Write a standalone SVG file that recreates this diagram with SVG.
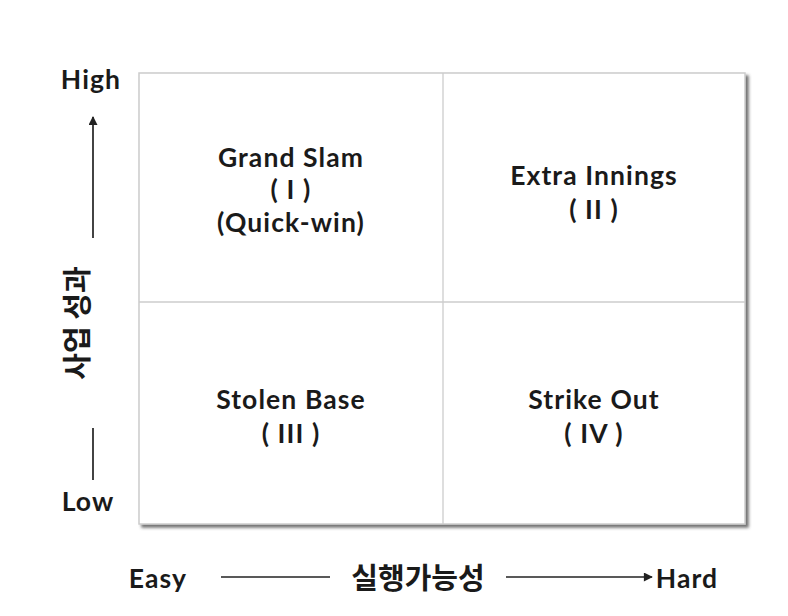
<svg xmlns="http://www.w3.org/2000/svg" width="788" height="616" viewBox="0 0 788 616">
<defs>
<style>
.t{font-family:Lato,"Noto Sans CJK KR",sans-serif;font-weight:700;font-size:26.5px;letter-spacing:1.1px;fill:#1a1a1a;text-anchor:middle}
.k{font-family:"Noto Sans CJK KR",sans-serif;font-weight:700;font-size:29px;fill:#1a1a1a;text-anchor:middle}
.ln{stroke:#222;stroke-width:1.7;fill:none}
</style>
<marker id="ah" viewBox="0 0 10 10" refX="9" refY="5" markerWidth="10" markerHeight="9" markerUnits="userSpaceOnUse" orient="auto"><path d="M0,0L10,5L0,10z" fill="#222"/></marker>
<filter id="sh" x="-5%" y="-5%" width="110%" height="110%"><feDropShadow dx="3" dy="3" stdDeviation="1.5" flood-color="#444" flood-opacity="0.75"/></filter>
</defs>
<rect width="788" height="616" fill="#fff"/>
<g id="matrix">
<rect x="139" y="73" width="606" height="451" fill="#fff" stroke="#ccc" stroke-width="1.5" filter="url(#sh)"/>
<line x1="443" y1="73" x2="443" y2="524" stroke="#ccc" stroke-width="1.3"/>
<line x1="139" y1="302" x2="745" y2="302" stroke="#ccc" stroke-width="1.3"/>
</g>
<g id="q1"><text class="t" x="291" y="167">Grand Slam</text><text class="t" x="291" y="199">( I )</text><text class="t" x="291" y="232">(Quick-win)</text></g>
<g id="q2"><text class="t" x="594" y="185">Extra Innings</text><text class="t" x="594" y="219">( II )</text></g>
<g id="q3"><text class="t" x="291" y="409">Stolen Base</text><text class="t" x="291" y="443">( III )</text></g>
<g id="q4"><text class="t" x="594" y="409">Strike Out</text><text class="t" x="594" y="443">( IV )</text></g>
<g id="labels">
<text class="t" x="91" y="89">High</text>
<text class="t" x="88" y="511">Low</text>
<text class="t" x="158" y="588">Easy</text>
<text class="t" x="687" y="588">Hard</text>
<text class="k" transform="translate(88,323) rotate(-90)">사업 성과</text>
<text class="k" x="418" y="589">실행가능성</text>
</g>
<g id="connectors">
<line class="ln" x1="93" y1="238" x2="93" y2="117" marker-end="url(#ah)"/>
<line class="ln" x1="93" y1="428" x2="93" y2="480"/>
<line class="ln" x1="221" y1="577" x2="330" y2="577"/>
<line class="ln" x1="506" y1="577" x2="652" y2="577" marker-end="url(#ah)"/>
</g>
</svg>
